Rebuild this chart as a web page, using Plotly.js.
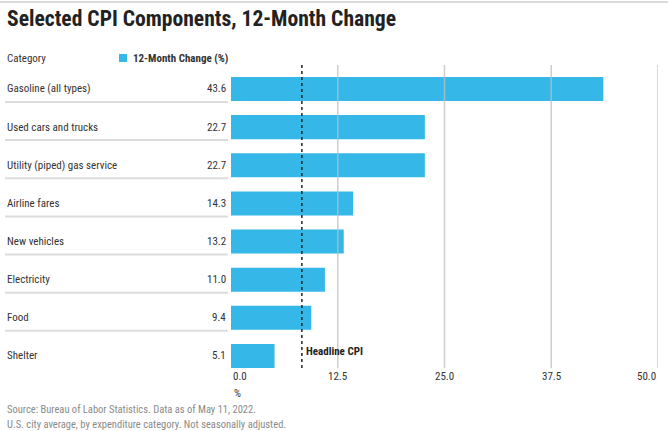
<!DOCTYPE html>
<html>
<head>
<meta charset="utf-8">
<script src="https://cdn.plot.ly/plotly-3.0.1.min.js"></script>
<style>
html,body{margin:0;padding:0;background:#fff;}
#chart{width:668px;height:431px;}
</style>
</head>
<body>
<div id="chart"></div>
<script>
var categories = ["Gasoline (all types)", "Used cars and trucks", "Utility (piped) gas service", "Airline fares", "New vehicles", "Electricity", "Food", "Shelter"];
var values = [43.6, 22.7, 22.7, 14.3, 13.2, 11.0, 9.4, 5.1];
var valueLabels = ["43.6", "22.7", "22.7", "14.3", "13.2", "11.0", "9.4", "5.1"];
var tickVals = [0, 12.5, 25, 37.5, 50];
var tickLabels = ["0.0", "12.5", "25.0", "37.5", "50.0"];
var headlineCPI = 8.3;
var seriesName = "12-Month Change (%)";

var FONT = '"Roboto Condensed", "Liberation Sans Narrow", "DejaVu Sans Condensed", "Arial Narrow", sans-serif';
var BLUE = '#35b8e7';
var TXT = '#333333';
var LBL = 11;

var plotL = 231, plotR = 658, W = 668;
var plotW = plotR - plotL;
function px2paper(px){ return (px - plotL) / plotW; }
function paperY(py){ return (368 - py) / (368 - 65); }

var trace = {
  type: 'bar',
  orientation: 'h',
  y: categories,
  x: values,
  marker: {color: BLUE, line: {width: 0}},
  width: 0.63,
  hoverinfo: 'x+y',
  showlegend: false
};

var annotations = [];
var shapes = [];

categories.forEach(function(c, i){
  annotations.push({
    xref: 'paper', yref: 'y', x: px2paper(5), y: c,
    text: c, showarrow: false, xanchor: 'left', yanchor: 'middle',
    font: {family: FONT, size: LBL, color: TXT}
  });
  annotations.push({
    xref: 'paper', yref: 'y', x: px2paper(228), y: c,
    text: valueLabels[i], showarrow: false, xanchor: 'right', yanchor: 'middle',
    font: {family: FONT, size: LBL, color: TXT}
  });
  if (i < categories.length - 1) {
    shapes.push({
      type: 'line', xref: 'paper', yref: 'y',
      x0: px2paper(5), x1: px2paper(228), y0: i + 0.34, y1: i + 0.34,
      line: {color: '#dcdcdc', width: 2}
    });
  }
});

tickVals.forEach(function(v, i){
  annotations.push({
    xref: 'x', yref: 'paper', x: v, y: 0, yshift: -8,
    text: tickLabels[i], showarrow: false,
    xanchor: i === 0 ? 'left' : (i === tickVals.length - 1 ? 'right' : 'center'),
    yanchor: 'middle',
    font: {family: FONT, size: LBL, color: TXT}
  });
  if (v > 0) {
    shapes.push({
      type: 'line', xref: 'x', yref: 'paper', x0: v, x1: v, y0: 0, y1: 1,
      layer: 'above',
      line: {color: 'rgba(190,190,190,0.75)', width: 1.5}
    });
  }
});

// headline CPI dashed line
shapes.push({
  type: 'line', xref: 'x', yref: 'paper', x0: headlineCPI, x1: headlineCPI, y0: 0, y1: 1,
  layer: 'above',
  line: {color: '#222', width: 1.5, dash: 'dot'}
});
annotations.push({
  xref: 'x', yref: 'y', x: headlineCPI, y: categories[categories.length - 1], xshift: 2, yshift: 4,
  text: '<b>Headline CPI</b>', showarrow: false, xanchor: 'left', yanchor: 'middle',
  font: {family: FONT, size: LBL, color: '#222'}
});

// top rule
shapes.push({
  type: 'line', xref: 'paper', yref: 'paper', x0: px2paper(0), x1: px2paper(W), y0: paperY(2), y1: paperY(2),
  line: {color: '#cccccc', width: 1.5}
});

annotations.push({
  xref: 'paper', yref: 'paper', x: px2paper(5), y: paperY(18),
  text: '<b>Selected CPI Components, 12-Month Change</b>', showarrow: false,
  xanchor: 'left', yanchor: 'middle',
  font: {family: FONT, size: 21.6, color: '#222'}
});
annotations.push({
  xref: 'paper', yref: 'paper', x: px2paper(5), y: paperY(58),
  text: 'Category', showarrow: false, xanchor: 'left', yanchor: 'middle',
  font: {family: FONT, size: LBL, color: TXT}
});
shapes.push({
  type: 'rect', xref: 'paper', yref: 'paper',
  x0: px2paper(119), x1: px2paper(127), y0: paperY(54), y1: paperY(62),
  fillcolor: BLUE, line: {width: 0}
});
annotations.push({
  xref: 'paper', yref: 'paper', x: px2paper(131), y: paperY(58),
  text: '<b>' + seriesName + '</b>', showarrow: false, xanchor: 'left', yanchor: 'middle',
  font: {family: FONT, size: LBL, color: TXT}
});
annotations.push({
  xref: 'paper', yref: 'paper', x: px2paper(232), y: paperY(393),
  text: '%', showarrow: false, xanchor: 'left', yanchor: 'middle',
  font: {family: FONT, size: LBL, color: TXT}
});
annotations.push({
  xref: 'paper', yref: 'paper', x: px2paper(5), y: paperY(409),
  text: 'Source: Bureau of Labor Statistics. Data as of May 11, 2022.', showarrow: false,
  xanchor: 'left', yanchor: 'middle',
  font: {family: FONT, size: 10.5, color: '#8a8a8a'}
});
annotations.push({
  xref: 'paper', yref: 'paper', x: px2paper(5), y: paperY(424),
  text: 'U.S. city average, by expenditure category. Not seasonally adjusted.', showarrow: false,
  xanchor: 'left', yanchor: 'middle',
  font: {family: FONT, size: 10.5, color: '#8a8a8a'}
});

var layout = {
  width: 668, height: 431,
  margin: {l: plotL, r: W - plotR, t: 65, b: 431 - 368, pad: 0},
  paper_bgcolor: '#fff', plot_bgcolor: '#fff',
  showlegend: false,
  xaxis: {
    range: [0, 50], tickvals: tickVals, showticklabels: false,
    showgrid: false, zeroline: false, showline: false, ticks: '', fixedrange: true
  },
  yaxis: {
    type: 'category', range: [7.315, -0.629], autorange: false,
    showticklabels: false, showgrid: false, zeroline: false, showline: false, ticks: '', fixedrange: true
  },
  annotations: annotations,
  shapes: shapes,
  font: {family: FONT, color: TXT}
};

Plotly.newPlot('chart', [trace], layout, {displayModeBar: false, staticPlot: true});
</script>
</body>
</html>
